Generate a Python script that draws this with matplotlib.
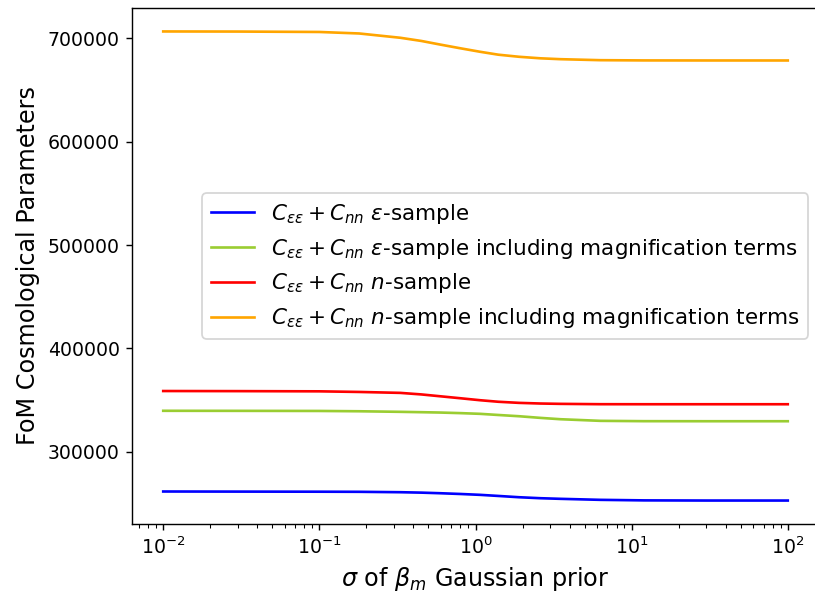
import matplotlib
matplotlib.use("Agg")
import matplotlib.pyplot as plt

sigma = [0.01, 0.03, 0.1, 0.18, 0.33, 0.45, 0.59, 0.8, 1.07, 1.4, 1.9, 2.6, 3.5, 6.3, 12, 30, 100]

fom_eps = [261300, 261200, 261100, 261000, 260610, 260200, 259640, 258900, 258060, 257000,
           255750, 254800, 254200, 253220, 252700, 252550, 252540]
fom_eps_mag = [339450, 339400, 339300, 339000, 338450, 338100, 337770, 337200, 336510, 335400,
               334190, 332600, 331290, 329720, 329400, 329350, 329350]
fom_n = [358600, 358500, 358300, 357700, 356800, 355300, 353560, 351600, 349690, 348200,
         347130, 346500, 346170, 345840, 345800, 345800, 345800]
fom_n_mag = [706800, 706700, 706300, 704840, 700680, 697600, 694190, 690500, 687120, 684300,
             682280, 680800, 679950, 678980, 678750, 678700, 678690]

labels = [r"$C_{\epsilon\epsilon} + C_{nn}$ $\epsilon$-sample",
          r"$C_{\epsilon\epsilon} + C_{nn}$ $\epsilon$-sample including magnification terms",
          r"$C_{\epsilon\epsilon} + C_{nn}$ $n$-sample",
          r"$C_{\epsilon\epsilon} + C_{nn}$ $n$-sample including magnification terms"]
colors = ["blue", "yellowgreen", "red", "orange"]

fig = plt.figure(figsize=(815 / 127, 593 / 127), dpi=127)
ax = fig.add_axes([132 / 815, 69 / 593, 687 / 815, 516 / 593])

for ys, lab, c in zip([fom_eps, fom_eps_mag, fom_n, fom_n_mag], labels, colors):
    ax.plot(sigma, ys, color=c, label=lab, lw=1.5)

ax.set_xscale("log")
ax.tick_params(labelsize=10.7)
ax.set_xlabel(r"$\sigma$ of $\beta_m$ Gaussian prior", fontsize=13.5)
ax.set_ylabel("FoM Cosmological Parameters", fontsize=13.5)
ax.legend(loc="center right", fontsize=12.2)
fig.savefig("out.png", dpi=127)
